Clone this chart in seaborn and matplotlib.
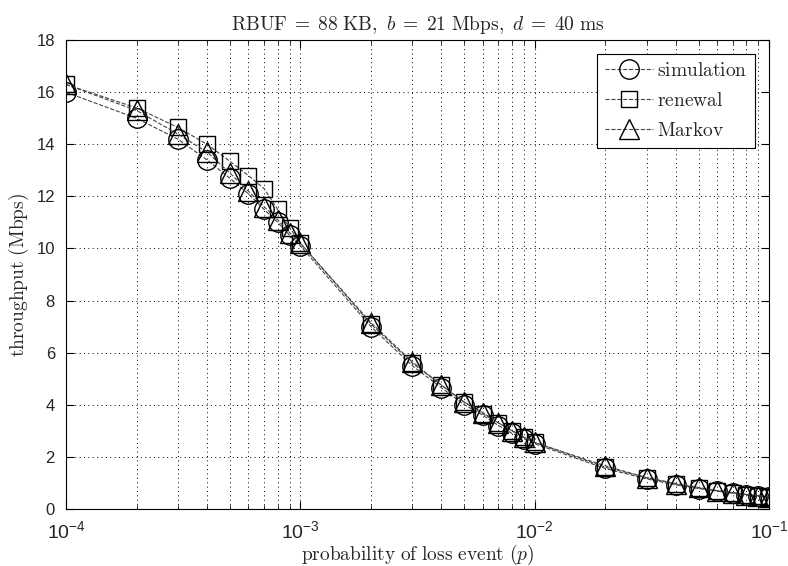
import numpy as np
import pandas as pd
import seaborn as sns
import matplotlib
matplotlib.use("Agg")
import matplotlib.pyplot as plt
from matplotlib.font_manager import FontProperties
from matplotlib.ticker import LogLocator, NullFormatter, MultipleLocator

# loss event probabilities
p = [1e-4, 2e-4, 3e-4, 4e-4, 5e-4, 6e-4, 7e-4, 8e-4, 9e-4,
     1e-3, 2e-3, 3e-3, 4e-3, 5e-3, 6e-3, 7e-3, 8e-3, 9e-3,
     1e-2, 2e-2, 3e-2, 4e-2, 5e-2, 6e-2, 7e-2, 8e-2, 9e-2, 1e-1]

# throughput (Mbps)
simulation = [16.0, 15.0, 14.2, 13.4, 12.7, 12.1, 11.5, 11.0, 10.5,
              10.1, 7.0, 5.5, 4.65, 4.0, 3.6, 3.2, 2.9, 2.7,
              2.5, 1.55, 1.15, 0.92, 0.78, 0.68, 0.6, 0.53, 0.48, 0.44]
renewal = [16.3, 15.4, 14.65, 14.0, 13.35, 12.8, 12.3, 11.5, 10.8,
           10.2, 7.1, 5.6, 4.75, 4.1, 3.65, 3.3, 3.0, 2.75,
           2.55, 1.6, 1.2, 0.95, 0.8, 0.7, 0.62, 0.55, 0.5, 0.45]
markov = [16.3, 15.3, 14.4, 13.7, 12.9, 12.2, 11.6, 11.1, 10.6,
          10.2, 7.15, 5.65, 4.75, 4.1, 3.7, 3.3, 3.0, 2.75,
          2.55, 1.65, 1.2, 0.97, 0.82, 0.7, 0.62, 0.55, 0.5, 0.46]

series = [("simulation", simulation, "o", 14),
          ("renewal", renewal, "s", 12),
          ("Markov", markov, "^", 14)]

sns.set_style("ticks")
plt.rcParams["font.family"] = ["Liberation Sans", "DejaVu Sans"]
plt.rcParams["mathtext.fontset"] = "custom"
plt.rcParams["mathtext.rm"] = "Liberation Sans"
plt.rcParams["mathtext.it"] = "Liberation Sans:italic"
plt.rcParams["mathtext.bf"] = "Liberation Sans:bold"

fig = plt.figure(figsize=(7.88, 5.66), dpi=100)
ax = fig.add_axes([0.0838, 0.101, 0.8922, 0.828])

for name, vals, mk, ms in series:
    df = pd.DataFrame({"p": p, "throughput": vals})
    sns.lineplot(data=df, x="p", y="throughput", ax=ax, color="#444444",
                 linestyle="--", linewidth=0.8, marker=mk, markersize=ms,
                 markerfacecolor="none", markeredgecolor="black",
                 markeredgewidth=1.0, label=name, legend=False)

ax.set_xscale("log")
ax.set_xlim(1e-4, 1e-1)
ax.set_ylim(0, 18)
ax.yaxis.set_major_locator(MultipleLocator(2))
ax.xaxis.set_major_locator(LogLocator(base=10, numticks=10))
ax.xaxis.set_minor_locator(LogLocator(base=10, subs=np.arange(2, 10), numticks=20))
ax.xaxis.set_minor_formatter(NullFormatter())

ax.grid(True, which="major", axis="both", linestyle=(0, (1, 3.5)), color="black", linewidth=0.7)
ax.grid(True, which="minor", axis="x", linestyle=(0, (1, 3.5)), color="black", linewidth=0.7)

ax.tick_params(which="both", direction="in", top=True, right=True, color="black")
ax.tick_params(which="major", length=6, width=0.8)
ax.tick_params(which="minor", length=3, width=0.6)
ax.tick_params(axis="y", labelsize=12, pad=8)
ax.tick_params(axis="x", labelsize=14, pad=8)
for s in ax.spines.values():
    s.set_color("black")
    s.set_linewidth(0.8)

ax.set_title(r"$\mathrm{RBUF} \;=\; 88\ \mathrm{KB},\ b \;=\; 21\ \mathrm{Mbps},\ d \;=\; 40\ \mathrm{ms}$",
             fontsize=14, math_fontfamily="cm", pad=7)
ax.set_xlabel(r"$\mathrm{probability\ of\ loss\ event}\ (p)$", fontsize=14,
              math_fontfamily="cm", labelpad=1)
ax.set_ylabel(r"$\mathrm{throughput\ (Mbps)}$", fontsize=14, math_fontfamily="cm",
              labelpad=4)

leg = ax.legend(loc="upper right", bbox_to_anchor=(0.980, 0.970), borderaxespad=0,
                fancybox=False, framealpha=1, edgecolor="black",
                handlelength=2.5, handletextpad=0.2, labelspacing=0.62, borderpad=0.4,
                prop=FontProperties(size=14, math_fontfamily="cm"))
for t, (name, _, _, _) in zip(leg.get_texts(), series):
    t.set_text(r"$\mathrm{" + name + "}$")
leg.get_frame().set_linewidth(0.8)

fig.savefig("out.png", dpi=100)
